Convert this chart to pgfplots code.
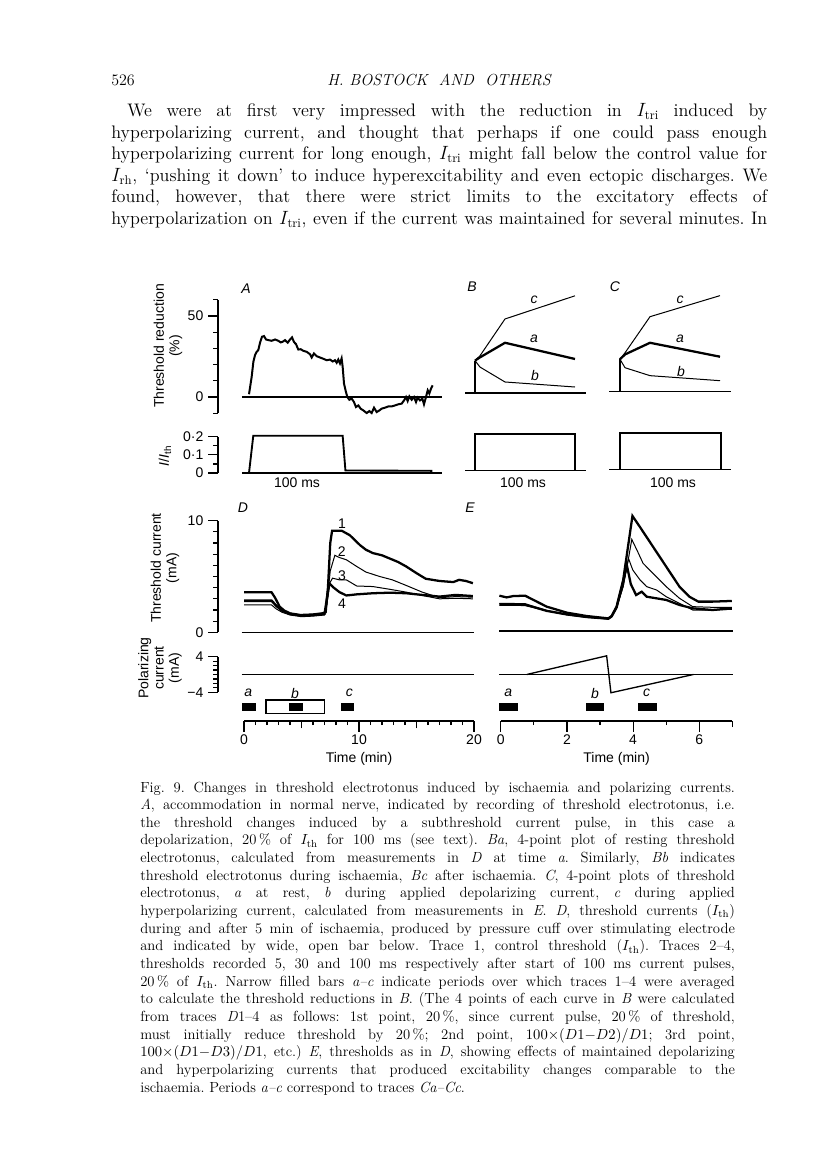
\documentclass[border=0pt]{standalone}
\usepackage{fontspec}
\usepackage{pgfplots}
\pgfplotsset{compat=1.18}
\newfontfamily\figfont{Liberation Sans}
\newcommand\figsz{\figfont\fontsize{10.5}{11.5}\selectfont}
\newcommand\figit{\figfont\itshape\fontsize{10.5}{11.5}\selectfont}

\pgfplotsset{
  spine/.style={scale only axis, clip=false, anchor=south west,
    axis x line=none, axis y line*=left,
    axis line style={line width=1.1pt},
    tick style={black, line width=0.9pt},
    major tick length=7.5pt, minor tick length=3.5pt,
    ytick align=outside, tick label style={font=\figsz}},
  noax/.style={scale only axis, clip=false, anchor=south west, hide axis},
  timeax/.style={scale only axis, clip=false, anchor=south west,
    axis y line=none, axis x line*=bottom,
    axis line style={line width=1.1pt},
    tick style={black, line width=0.9pt},
    major tick length=8pt, minor tick length=3pt,
    xtick align=outside, tick label style={font=\figsz},
    xticklabel style={yshift=1pt},
    ymin=0, ymax=40, height=30pt},
  tr/.style={black, line width=0.75pt},
  trb/.style={black, line width=1.7pt},
  zl/.style={black, line width=1pt},
}

\begin{document}
\begin{tikzpicture}
\begin{scope}[x=0.75pt,y=-0.75pt]
\path[use as bounding box] (0,0) rectangle (816,1169);

% ---------- page text ----------
\node[anchor=base west, inner sep=0pt] at (111,85.5) {\fontsize{12}{14}\selectfont 526};
\node[anchor=base, inner sep=0pt] at (439,85.5) {\fontsize{12}{14}\selectfont\itshape H. BOSTOCK\ \ AND\ \ OTHERS};
\node[anchor=base west, inner sep=0pt] at (111,117) {\parbox[t]{492pt}{\fontsize{13.6}{16.1}\selectfont\addfontfeature{FakeStretch=1.12}\frenchspacing\parfillskip=0pt
\hspace*{12pt}We were at first very impressed with the reduction in $I_{\rm tri}$ induced by \linebreak
hyperpolarizing current, and thought that perhaps if one could pass enough \linebreak
hyperpolarizing current for long enough, $I_{\rm tri}$ might fall below the control value for \linebreak
$I_{\rm rh}$, `pushing it down' to induce hyperexcitability and even ectopic discharges. We \linebreak
found, however, that there were strict limits to the excitatory effects of \linebreak
hyperpolarization on $I_{\rm tri}$, even if the current was maintained for several minutes. In}};

\node[anchor=base west, inner sep=0pt] at (140,792) {\parbox[t]{446pt}{\fontsize{11}{13.24}\selectfont\frenchspacing
Fig. 9. Changes in threshold electrotonus induced by ischaemia and polarizing currents. \linebreak
\textit{A}, accommodation in normal nerve, indicated by recording of threshold electrotonus, i.e. \linebreak
the threshold changes induced by a subthreshold current pulse, in this case a \linebreak
depolarization, 20\,\% of $I_{\rm th}$ for 100 ms (see text). \textit{Ba}, 4-point plot of resting threshold \linebreak
electrotonus, calculated from measurements in \textit{D} at time \textit{a}. Similarly, \textit{Bb} indicates \linebreak
threshold electrotonus during ischaemia, \textit{Bc} after ischaemia. \textit{C}, 4-point plots of threshold \linebreak
electrotonus, \textit{a} at rest, \textit{b} during applied depolarizing current, \textit{c} during applied \linebreak
hyperpolarizing current, calculated from measurements in \textit{E}. \textit{D}, threshold currents ($I_{\rm th}$) \linebreak
during and after 5 min of ischaemia, produced by pressure cuff over stimulating electrode \linebreak
and indicated by wide, open bar below. Trace 1, control threshold ($I_{\rm th}$). Traces 2--4, \linebreak
thresholds recorded 5, 30 and 100 ms respectively after start of 100 ms current pulses, \linebreak
20\,\% of $I_{\rm th}$. Narrow filled bars \textit{a--c} indicate periods over which traces 1--4 were averaged \linebreak
to calculate the threshold reductions in \textit{B}. (The 4 points of each curve in \textit{B} were calculated \linebreak
from traces \textit{D}1--4 as follows: 1st point, 20\,\%, since current pulse, 20\,\% of threshold, \linebreak
must initially reduce threshold by 20\,\%; 2nd point, $100{\times}(D1{-}D2)/D1$; 3rd point, \linebreak
$100{\times}(D1{-}D3)/D1$, etc.) \textit{E}, thresholds as in \textit{D}, showing effects of maintained depolarizing \linebreak
and hyperpolarizing currents that produced excitability changes comparable to the \linebreak
ischaemia. Periods \textit{a--c} correspond to traces \textit{Ca--Cc}.}};

% ---------- axis labels ----------
\node[rotate=90, align=center, font=\figsz] at (168,346) {Threshold reduction\\(\%)};
\node[rotate=90, font=\figsz] at (165,456) {\textit{I}/\textit{I}\textsubscript{th}};
\node[rotate=90, align=center, font=\figsz] at (165,568) {Threshold current\\(mA)};
\node[rotate=90, align=center, font=\figsz] at (160,668) {Polarizing\\current\\(mA)};
\end{scope}

% ---------- A: threshold reduction ----------
\begin{axis}[spine, at={(163.5pt,-309.9pt)}, width=170.25pt, height=85.05pt,
  xmin=-32.63, xmax=206.32, ymin=-10, ymax=60,
  ytick={0,50}, yticklabels={0,50}, minor ytick={-10,10,20,30,40,60}]
\addplot[zl] coordinates {(-7.4,0) (203,0)};
\addplot[trb, line width=1.5pt] coordinates {
(0,1.7)(2.8,12.4)(4.6,21.7)(6.3,25.8)(8.1,27.9)(9.8,29)(11.6,33.5)(13.7,37.2)(15.8,37.6)(17.9,35.5)
(20.4,35.1)(23.9,34.7)(27.4,35.5)(30.9,34.7)(33.3,33.7)(35.4,34.1)(37.9,35.1)(40.7,33.5)(43.2,35.5)
(45.3,36.8)(47.4,33.9)(49.5,32.6)(51.9,29.3)(54.4,29.5)(57.2,28.5)(60.7,27.9)(64.2,26.4)(66,24.4)
(68.4,26.9)(71.2,25.2)(74.7,24.4)(78.2,23.6)(81.8,22.7)(85.3,23.1)(88.1,21.9)(90.5,22.7)(92.3,21.1)
(94,23.1)(95.8,20.7)(97.5,23.8)(98.6,18.6)(100,8.3)(101.8,3.7)(103.5,0)(105.6,-1.7)(108.1,-1)
(110.5,-3.1)(112.6,-6.2)(115.1,-5.2)(117.5,-7.2)(120.4,-8.3)(123.9,-9.9)(126.7,-8.7)(129.1,-9.9)
(131.6,-6.6)(134.4,-9.3)(137.2,-8.3)(139.6,-7.2)(143.2,-6.6)(146.7,-5.8)(150.2,-5.8)(153.7,-5.2)
(157.2,-4.5)(160.7,-4.1)(163.2,-2.1)(165.3,0)(167,-2.5)(168.8,0.4)(171.2,-1.7)(173.7,0)(175.8,-3.1)
(177.5,-0.4)(180,-2.1)(182.5,-1)(184.2,-4.5)(186.3,0)(188.1,4.1)(189.8,2.1)(191.6,5.2)(193.3,7.2)};
\node[font=\figit] at (axis cs:-3,67) {A};
\end{axis}

% ---------- A: current ----------
\begin{axis}[spine, at={(163.5pt,-354.75pt)}, width=170.25pt, height=27.225pt,
  xmin=-32.63, xmax=206.32, ymin=0, ymax=0.2,
  ytick={0,0.1,0.2}, yticklabels={0,0·1,0·2}, minor ytick={0.05,0.15}]
\addplot[zl] coordinates {(-7.4,0) (203,0)};
\addplot[trb, line width=1.4pt] coordinates {(0,0)(4.5,0.205)(98.6,0.205)(101.5,0.014)(193,0.012)};
\node[font=\figsz] at (axis cs:50.5,-0.055) {100 ms};
\end{axis}

% ---------- B ----------
\begin{axis}[noax, at={(345.75pt,-306.9pt)}, width=97.5pt, height=85.05pt,
  xmin=-14, xmax=116, ymin=-10, ymax=60]
\addplot[zl] coordinates {(-10,0) (111,0)};
\addplot[trb] coordinates {(0,0) (0,20)};
\addplot[tr] coordinates {(0,20) (5,16) (30,6.8) (100,3.7)};
\addplot[tr] coordinates {(0,20) (5,23) (30,45.7) (100,60)};
\addplot[trb] coordinates {(0,20) (5,22) (30,31) (100,21)};
\node[font=\figit] at (axis cs:59,33.3) {a};
\node[font=\figit] at (axis cs:60,11.1) {b};
\node[font=\figit] at (axis cs:59,57.4) {c};
\node[font=\figit] at (axis cs:-3,65.4) {B};
\end{axis}
\begin{axis}[noax, at={(345.75pt,-352.875pt)}, width=97.5pt, height=27.225pt,
  xmin=-14, xmax=116, ymin=0, ymax=0.2]
\addplot[zl] coordinates {(-10,0) (111,0)};
\addplot[trb, line width=1.4pt] coordinates {(0,0) (0,0.2) (100,0.2) (100,0)};
\node[font=\figsz] at (axis cs:48,-0.069) {100 ms};
\end{axis}

% ---------- C ----------
\begin{axis}[noax, at={(454.5pt,-305.925pt)}, width=97.5pt, height=85.05pt,
  xmin=-14, xmax=116, ymin=-10, ymax=60]
\addplot[zl] coordinates {(-11,0) (111,0)};
\addplot[trb] coordinates {(0,0) (0,20)};
\addplot[tr] coordinates {(0,20) (5,14.8) (30,9.9) (100,6.8)};
\addplot[tr] coordinates {(0,20) (5,24) (30,46.3) (100,59.3)};
\addplot[trb] coordinates {(0,20) (5,23) (30,30.2) (100,21.6)};
\node[font=\figit] at (axis cs:60,32.5) {a};
\node[font=\figit] at (axis cs:61,12.2) {b};
\node[font=\figit] at (axis cs:60,56.6) {c};
\node[font=\figit] at (axis cs:-5,64.6) {C};
\end{axis}
\begin{axis}[noax, at={(454.5pt,-352.125pt)}, width=97.5pt, height=27.225pt,
  xmin=-14, xmax=116, ymin=0, ymax=0.2]
\addplot[zl] coordinates {(-10.7,0) (110.7,0)};
\addplot[trb, line width=1.4pt] coordinates {(0,0) (0,0.2) (100.7,0.2) (100.7,0)};
\node[font=\figsz] at (axis cs:53,-0.074) {100 ms};
\end{axis}

% ---------- D: threshold current ----------
\begin{axis}[spine, at={(163.5pt,-474.225pt)}, width=193.5pt, height=83.7pt,
  xmin=-2.261, xmax=20.174, ymin=0, ymax=10,
  ytick={0,10}, yticklabels={0,10}, minor ytick={1,...,9}]
\addplot[zl] coordinates {(-0.2,0) (20,0)};
\addplot[tr] coordinates {(0,2.75)(2.4,2.75)(2.8,2.3)(3.3,1.9)(4,1.6)(5,1.45)(6,1.5)(7,1.6)(7.2,2.5)
(7.5,5.5)(7.9,6.9)(8.3,6.7)(8.9,6.5)(9.8,5.9)(10.6,5.4)(11.8,5.0)(12.9,4.7)(14.1,4.2)(15.5,3.6)
(17,3.1)(18.4,3.2)(19.9,3.15)};
\addplot[tr] coordinates {(0,2.45)(2.4,2.45)(2.8,2.1)(3.3,1.8)(4,1.55)(5,1.4)(6,1.45)(7,1.55)(7.2,2.5)
(7.5,4.5)(7.7,4.85)(8.3,4.7)(8.9,4.7)(9.8,4.15)(11.2,4.1)(12.7,3.85)(14.1,3.6)(15.5,3.3)(17,3.0)
(18.4,3.05)(19.9,3.0)};
\addplot[trb] coordinates {(0,2.85)(2.4,2.85)(2.8,2.4)(3.3,1.95)(4,1.65)(5,1.5)(6,1.55)(7,1.65)(7.2,3)
(7.4,4.4)(7.8,4.0)(8.3,3.6)(8.9,3.3)(9.8,3.4)(11.2,3.5)(12.7,3.55)(14.1,3.5)(15.5,3.35)(17,3.2)
(18.4,3.35)(19.9,3.25)};
\addplot[trb] coordinates {(0,3.58)(2.4,3.58)(2.7,3.1)(3.1,2.3)(3.5,1.95)(4,1.7)(4.9,1.55)(6,1.6)
(6.8,1.7)(7.1,1.8)(7.3,4)(7.5,8)(7.66,9.1)(8.5,9.1)(9.2,8.7)(10.1,7.8)(10.6,7.4)(11.2,7.1)(12,6.9)
(12.7,6.6)(13.4,6.3)(14.1,5.9)(15,5.3)(15.8,4.8)(17,4.6)(18.2,4.5)(18.7,4.7)(19.3,4.6)(19.9,4.4)};
\node[font=\figsz] at (axis cs:8.53,9.7) {1};
\node[font=\figsz] at (axis cs:8.5,7.2) {2};
\node[font=\figsz] at (axis cs:8.53,5.04) {3};
\node[font=\figsz] at (axis cs:8.53,2.6) {4};
\node[font=\figit] at (axis cs:-0.1,11.13) {D};
\end{axis}

% ---------- D: polarizing current ----------
\begin{axis}[spine, at={(163.5pt,-519.225pt)}, width=193.5pt, height=26.7pt,
  xmin=-2.261, xmax=20.174, ymin=-4, ymax=4,
  ytick={-4,4}, yticklabels={−4,4}, minor ytick={-3,...,3}]
\addplot[zl] coordinates {(-0.2,0) (20,0)};
\end{axis}

% ---------- E: threshold current ----------
\begin{axis}[noax, at={(372.75pt,-473.25pt)}, width=179.25pt, height=83.775pt,
  xmin=-0.112, xmax=7.108, ymin=0, ymax=10]
\addplot[zl] coordinates {(-0.04,0) (7.03,0)};
\addplot[tr] coordinates {(-0.04,2.48)(0.74,2.45)(0.99,2.2)(1.39,1.85)(2.0,1.5)(2.6,1.25)(3.25,1.1)
(3.35,1.3)(3.5,2.1)(3.7,4.0)(3.86,6.5)(3.96,8.2)(4.16,6.96)(4.3,6.06)(4.6,5.16)(5.0,3.97)(5.4,2.93)
(5.8,2.18)(6.4,2.12)(6.98,2.12)};
\addplot[tr] coordinates {(-0.04,2.3)(0.74,2.3)(0.99,2.1)(1.39,1.8)(2.0,1.45)(2.6,1.22)(3.25,1.08)
(3.35,1.3)(3.5,2.1)(3.7,4.0)(3.86,6.5)(3.99,5.46)(4.21,4.57)(4.41,3.97)(4.71,3.67)(5.0,3.07)
(5.4,2.48)(5.8,1.88)(6.4,1.88)(6.98,1.94)};
\addplot[trb] coordinates {(-0.04,2.39)(0.74,2.33)(0.99,2.15)(1.39,1.8)(2.0,1.48)(2.6,1.25)(3.25,1.1)
(3.35,1.3)(3.5,2.1)(3.65,3.8)(3.81,5.9)(3.93,4.2)(4.09,3.22)(4.26,3.52)(4.41,3.07)(5.0,2.78)
(5.4,2.33)(5.8,2.03)(6.4,1.88)(6.98,2.03)};
\addplot[trb] coordinates {(-0.04,3.16)(0.18,3.01)(0.38,3.13)(0.74,3.16)(0.99,2.78)(1.39,2.18)
(2.0,1.64)(2.6,1.34)(3.25,1.13)(3.35,1.34)(3.5,2.18)(3.7,4.57)(3.86,7.85)(3.98,10.3)(4.2,9.34)
(4.6,7.55)(5.0,5.76)(5.4,3.97)(5.7,3.07)(5.97,2.63)(6.4,2.63)(6.98,2.69)};
\node[font=\figit] at (axis cs:-0.93,11.0) {E};
\end{axis}

% ---------- E: polarizing current ----------
\begin{axis}[noax, at={(372.75pt,-519.225pt)}, width=179.25pt, height=26.7pt,
  xmin=-0.112, xmax=7.108, ymin=-4, ymax=4]
\addplot[zl] coordinates {(-0.04,0) (7.03,0)};
\addplot[tr, line width=1pt] coordinates {(0.785,0) (3.2,4.2) (3.33,-4.1) (5.82,0)};
\end{axis}

% ---------- D: bars and time axis ----------
\begin{axis}[timeax, at={(183pt,-540.75pt)}, width=172.5pt, xmin=0, xmax=20,
  xtick={0,10,20}, xticklabels={0,10,20}, minor xtick={1,...,19},
  extra x ticks={5,15}, extra x tick labels={},
  extra x tick style={major tick length=5.5pt}]
\addplot[fill=black, draw=black] coordinates {(-0.12,10.3)(1.01,10.3)(1.01,17.7)(-0.12,17.7)} --cycle;
\addplot[fill=white, draw=black, line width=1pt] coordinates {(1.9,7.7)(7.02,7.7)(7.02,21)(1.9,21)} --cycle;
\addplot[fill=black, draw=black] coordinates {(3.93,10.3)(5.06,10.3)(5.06,17.7)(3.93,17.7)} --cycle;
\addplot[fill=black, draw=black] coordinates {(8.44,10.3)(9.54,10.3)(9.54,17.7)(8.44,17.7)} --cycle;
\node[font=\figit] at (axis cs:0.37,28) {a};
\node[font=\figit] at (axis cs:4.43,28) {b};
\node[font=\figit] at (axis cs:9.16,28) {c};
\node[font=\figsz] at (axis cs:10,-38) {Time (min)};
\end{axis}

% ---------- E: bars and time axis ----------
\begin{axis}[timeax, at={(375.525pt,-540.75pt)}, width=173.8pt, xmin=0, xmax=7,
  xtick={0,2,4,6}, xticklabels={0,2,4,6}, minor xtick={1,3,5},
  extra x ticks={7}, extra x tick labels={},
  extra x tick style={major tick length=4.5pt}]
\addplot[fill=black, draw=black] coordinates {(-0.05,10.3)(0.5,10.3)(0.5,17.7)(-0.05,17.7)} --cycle;
\addplot[fill=black, draw=black] coordinates {(2.58,10.3)(3.1,10.3)(3.1,17.7)(2.58,17.7)} --cycle;
\addplot[fill=black, draw=black] coordinates {(4.17,10.3)(4.71,10.3)(4.71,17.7)(4.17,17.7)} --cycle;
\node[font=\figit] at (axis cs:0.23,28) {a};
\node[font=\figit] at (axis cs:2.85,28) {b};
\node[font=\figit] at (axis cs:4.41,28) {c};
\node[font=\figsz] at (axis cs:3.5,-38) {Time (min)};
\end{axis}
\end{tikzpicture}
\end{document}
